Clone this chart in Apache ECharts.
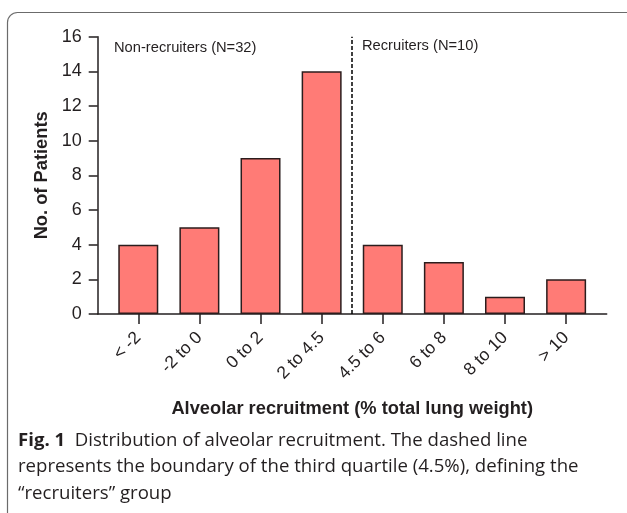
<!DOCTYPE html>
<html>
<head>
<meta charset="utf-8">
<script src="https://cdn.jsdelivr.net/npm/echarts@6/dist/echarts.min.js"></script>
<style>
  html, body { margin: 0; padding: 0; background: #fff; }
  #chart { width: 627px; height: 513px; }
</style>
</head>
<body>
<div id="chart"></div>
<script>
// bins of alveolar recruitment and patient counts
var categories = ['< -2', '-2 to 0', '0 to 2', '2 to 4.5', '4.5 to 6', '6 to 8', '8 to 10', '> 10'];
var patients = [4, 5, 9, 14, 4, 3, 1, 2];
var yTicks = [0, 2, 4, 6, 8, 10, 12, 14, 16];
var boundary = 3.5; // between "2 to 4.5" and "4.5 to 6"
var captionLines = [
  'Distribution of alveolar recruitment. The dashed line',
  'represents the boundary of the third quartile (4.5%), defining the',
  '\u201crecruiters\u201d group'
];

var chart = echarts.init(document.getElementById('chart'));
var pad = 0.664; // half a bin plus gap before first / after last bar
var ink = '#231f20';
var font = '"Liberation Sans", Arial, sans-serif';
var capFont = '"Open Sans", Lato, sans-serif';
var idx = categories.map(function (c, i) { return i; });

var caption = '{b|Fig. 1}{n|  ' + captionLines[0] + '}\n{n|' + captionLines[1] + '}\n{n|' + captionLines[2] + '}';

var option = {
  backgroundColor: '#fff',
  animation: false,
  textStyle: { fontFamily: font },
  grid: { left: 97.7, right: 20.3, top: 36.7, bottom: 199, containLabel: false },
  xAxis: {
    type: 'value',
    min: -pad,
    max: categories.length - 1 + pad,
    splitLine: { show: false },
    axisLine: { onZero: false, lineStyle: { color: ink, width: 1.5 } },
    axisTick: { customValues: idx, length: 10, lineStyle: { color: ink, width: 1.5 } },
    axisLabel: {
      customValues: idx,
      formatter: function (v) { return categories[Math.round(v)]; },
      rotate: 45,
      margin: 21,
      fontSize: 17.5,
      color: ink,
      fontFamily: font
    },
    name: 'Alveolar recruitment (% total lung weight)',
    nameLocation: 'middle',
    nameGap: 86,
    nameTextStyle: { fontSize: 18.3, fontWeight: 'bold', color: ink, fontFamily: font }
  },
  yAxis: {
    type: 'value',
    min: yTicks[0],
    max: yTicks[yTicks.length - 1],
    interval: 2,
    splitLine: { show: false },
    axisLine: { show: true, onZero: false, lineStyle: { color: ink, width: 1.5 } },
    axisTick: { show: true, length: 9, lineStyle: { color: ink, width: 1.5 } },
    axisLabel: { fontSize: 18, color: ink, margin: 16, fontFamily: font },
    name: 'No. of Patients',
    nameLocation: 'middle',
    nameGap: 45,
    nameTextStyle: { fontSize: 18.3, fontWeight: 'bold', color: ink, fontFamily: font }
  },
  series: [{
    type: 'bar',
    barWidth: 40,
    data: patients.map(function (v, i) { return [i, v]; }),
    itemStyle: { color: '#ff7b76', borderColor: '#2b1d1d', borderWidth: 1.5 },
    markLine: {
      silent: true,
      symbol: ['none', 'none'],
      label: { show: false },
      lineStyle: { color: '#000', type: [4, 2], width: 1.5 },
      data: [{ xAxis: boundary }]
    }
  }],
  graphic: [
    {
      type: 'rect', silent: true, z: -1,
      shape: { x: 7.5, y: 12.5, width: 630, height: 510, r: 10 },
      style: { fill: 'none', stroke: '#6b6b6b', lineWidth: 1.2 }
    },
    {
      type: 'text', left: 114, top: 40,
      style: { text: 'Non-recruiters (N=32)', fontSize: 14.7, fill: ink, fontFamily: font }
    },
    {
      type: 'text', left: 362, top: 38,
      style: { text: 'Recruiters (N=10)', fontSize: 14.7, fill: ink, fontFamily: font }
    },
    {
      type: 'text', left: 18, top: 431,
      style: {
        text: caption,
        fill: ink,
        rich: {
          b: { fontSize: 18.6, fontWeight: 'bold', fill: ink, fontFamily: capFont, lineHeight: 26.5 },
          n: { fontSize: 18.6, fill: ink, fontFamily: capFont, lineHeight: 26.5 }
        }
      }
    }
  ]
};
chart.setOption(option);
</script>
</body>
</html>
